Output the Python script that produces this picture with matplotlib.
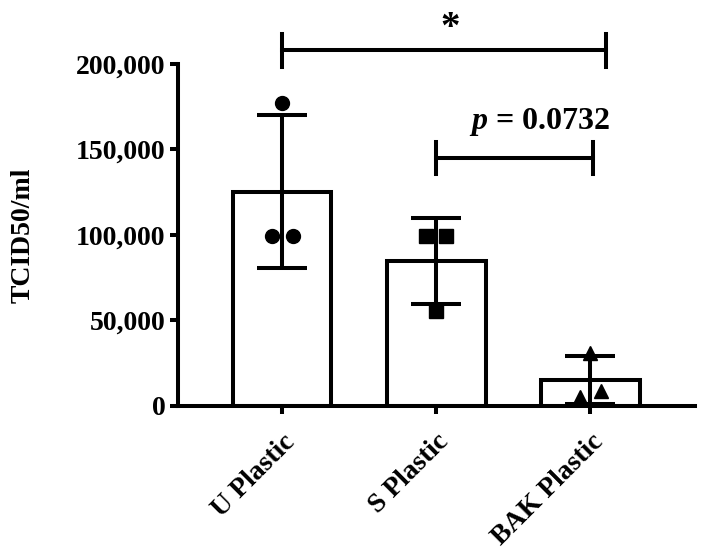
import numpy as np
import matplotlib.pyplot as plt

groups = ['U Plastic', 'S Plastic', 'BAK Plastic']
u_vals = [177200, 99400, 99400]
s_vals = [99400, 99400, 55500]
bak_vals = [31000, 8800, 5000]
point_sets = [u_vals, s_vals, bak_vals]
markers = ['o', 's', '^']
point_offsets = [[0.0, -0.065, 0.07], [-0.068, 0.062, 0.0], [0.0, 0.07, -0.065]]

means = [np.mean(v) for v in point_sets]
sds = [np.std(v, ddof=1) for v in point_sets]

plt.rcParams['font.family'] = ['Liberation Serif', 'DejaVu Serif']
plt.rcParams['font.weight'] = 'bold'
plt.rcParams['mathtext.fontset'] = 'custom'
plt.rcParams['mathtext.bfit'] = 'Liberation Serif:bold:italic'

fig = plt.figure(figsize=(7.13, 5.55), dpi=100)
ax = fig.add_axes([0.2497, 0.2685, 0.7253, 0.6162])

x = np.arange(len(groups))
lw = 2.9
ax.bar(x, means, width=0.64, color='white', edgecolor='black', linewidth=lw, zorder=2)
ax.errorbar(x, means, yerr=sds, fmt='none', ecolor='black', elinewidth=lw,
            capsize=18, capthick=lw, zorder=3)
sizes = {'o': 10, 's': 10.5, '^': 10}
for i, vals in enumerate(point_sets):
    ax.plot(x[i] + np.array(point_offsets[i]), vals, linestyle='none',
            marker=markers[i], color='black', markersize=sizes[markers[i]],
            zorder=4, clip_on=False)

ax.set_xlim(-0.675, 2.68)
ax.set_ylim(0, 200000)
ax.set_yticks([0, 50000, 100000, 150000, 200000])
ax.set_yticklabels(['0', '50,000', '100,000', '150,000', '200,000'])
ax.set_xticks(x)
ax.set_xticklabels(groups, rotation=45, ha='right', rotation_mode='anchor')
ax.tick_params(axis='both', direction='out', length=6, width=lw, labelsize=20)
ax.tick_params(axis='y', pad=3)
ax.tick_params(axis='x', pad=11)
for lab in ax.get_xticklabels() + ax.get_yticklabels():
    lab.set_fontweight('bold')

for side in ['top', 'right']:
    ax.spines[side].set_visible(False)
for side in ['left', 'bottom']:
    ax.spines[side].set_linewidth(lw)

ax.set_ylabel('TCID50/ml', fontsize=20, fontweight='bold')
ax.yaxis.set_label_coords(-0.275, 0.5)


def sig_bar(x0, x1, y):
    tick = 9500
    ax.plot([x0, x1], [y, y], color='black', linewidth=lw, clip_on=False)
    ax.plot([x0, x0], [y - tick, y + tick], color='black', linewidth=lw, clip_on=False)
    ax.plot([x1, x1], [y - tick, y + tick], color='black', linewidth=lw, clip_on=False)


sig_bar(0.0, 2.1, 208000)
ax.text(1.09, 221000, '*', ha='center', va='center', fontsize=28,
        fontweight='bold', clip_on=False)
sig_bar(1.0, 2.02, 145000)
ax.text(1.67, 166000, '$\\mathbfit{p}$ = 0.0732', ha='center', va='center',
        fontsize=23, fontweight='bold', clip_on=False)

fig.savefig('out.png', dpi=100)
